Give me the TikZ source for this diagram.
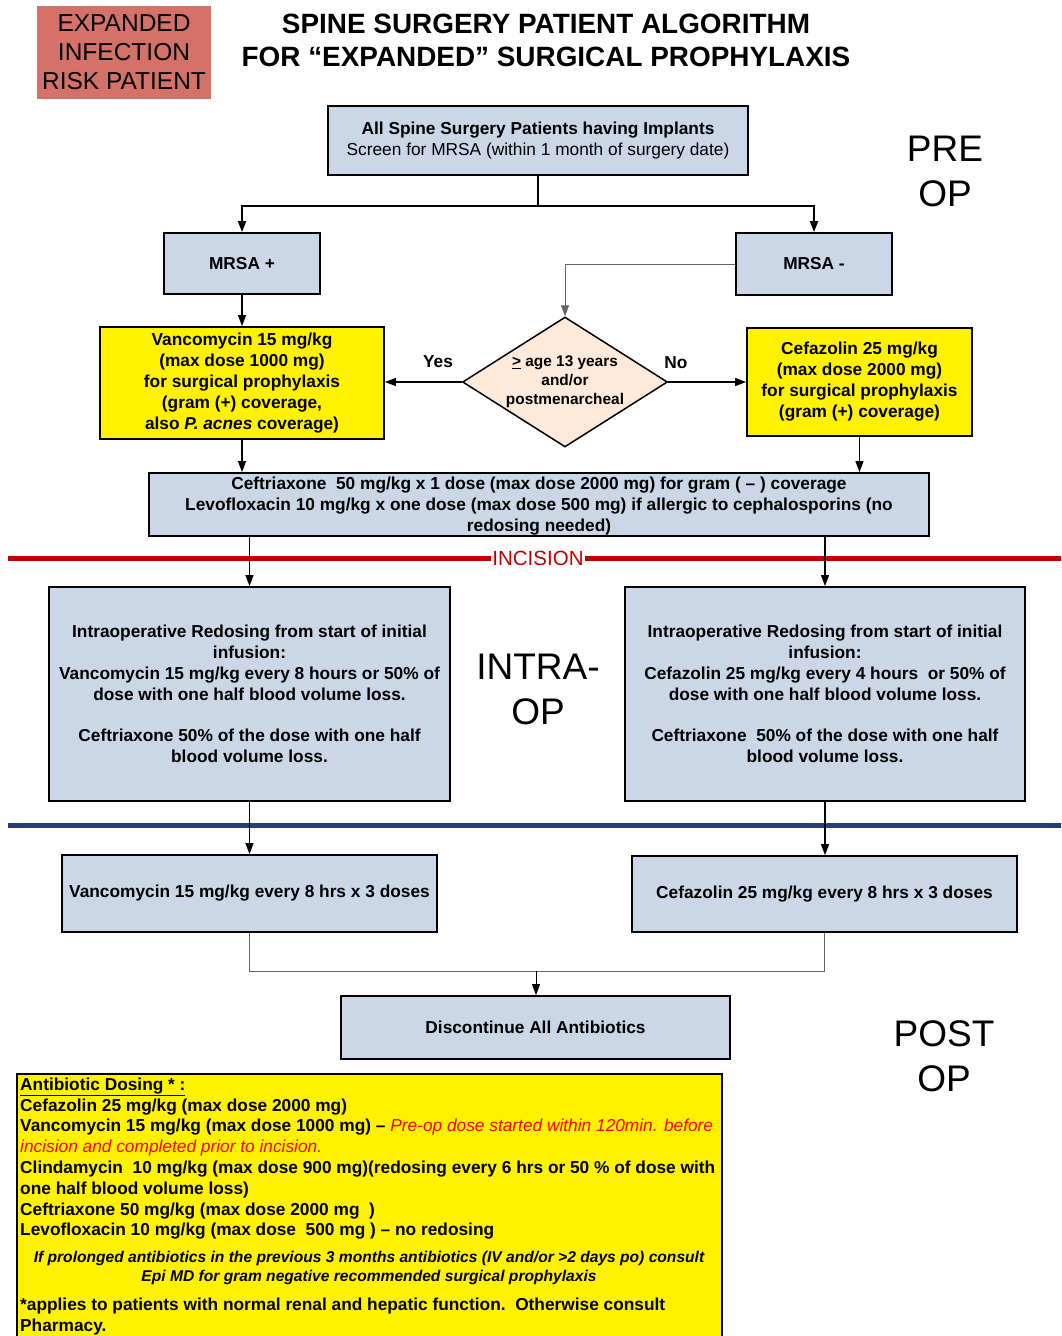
\documentclass[tikz,border=0pt]{standalone}
\usepackage{fontspec}
\setmainfont{Liberation Sans}
\usetikzlibrary{shapes.geometric,arrows.meta}
\definecolor{boxblue}{RGB}{203,215,231}
\definecolor{riskred}{RGB}{212,114,106}
\definecolor{peach}{RGB}{253,234,218}
\definecolor{incred}{RGB}{192,0,0}
\definecolor{postblue}{RGB}{36,64,116}
\definecolor{notered}{RGB}{255,0,0}
\definecolor{linkgray}{RGB}{100,100,100}
\newcommand{\fsz}[2]{\fontsize{#1}{#2}\selectfont}
\begin{document}
\begin{tikzpicture}[x=1pt,y=-1pt,
  stepbox/.style={draw,line width=1.8pt,fill=boxblue,align=center,inner sep=0pt,font=\bfseries\fsz{17.3}{21}},
  drugbox/.style={stepbox,fill=yellow},
  arr/.style={-{Triangle[width=8pt,length=11pt]},line width=1.1pt},
  phaselabel/.style={align=center,font=\fsz{37}{45}}]
\useasboundingbox (0,0) rectangle (1061,1336);
\node[fill=riskred,minimum width=174pt,minimum height=93pt,align=center,inner sep=0pt,font=\fsz{24.5}{29}] (risk) at (124,52.5){EXPANDED\\INFECTION\\RISK PATIENT};
\node[align=center,font=\bfseries\fsz{27.9}{33}] (title) at (546,40){SPINE SURGERY PATIENT ALGORITHM\\FOR “EXPANDED” SURGICAL PROPHYLAXIS};
\node[phaselabel] (pre) at (945,171.5){PRE\\OP};
\node[phaselabel] (intra) at (538,689.5){INTRA-\\OP};
\node[phaselabel] (post) at (944,1056.5){POST\\OP};

\node[stepbox,minimum width=420pt,minimum height=69pt] (all) at (538,140.5){All Spine Surgery Patients having Implants\\\mdseries Screen for MRSA (within 1 month of surgery date)};
\node[stepbox,minimum width=156pt,minimum height=61pt] (mrsap) at (242,263.5){MRSA +};
\node[stepbox,minimum width=156pt,minimum height=62pt] (mrsam) at (814,264){MRSA -};
\node[diamond,draw,line width=1.5pt,fill=peach,aspect=1.58,minimum width=205pt,minimum height=130pt,inner sep=0pt,align=center,font=\bfseries\fsz{15.4}{19}] (age) at (565,382){\underline{>} age 13 years\\and/or\\postmenarcheal};
\node[drugbox,minimum width=284pt,minimum height=112pt] (vanc) at (242,383){Vancomycin 15 mg/kg\\(max dose 1000 mg)\\for surgical prophylaxis\\(gram (+) coverage,\\also \textit{P. acnes} coverage)};
\node[drugbox,minimum width=225pt,minimum height=108pt] (cefa) at (859.5,382){Cefazolin 25 mg/kg\\(max dose 2000 mg)\\for surgical prophylaxis\\(gram (+) coverage)};
\node[font=\bfseries\fsz{17.3}{21}] (yes) at (438,362){Yes};
\node[font=\bfseries\fsz{17.3}{21}] (no) at (676,363){No};
\node[stepbox,minimum width=780pt,minimum height=63pt,text depth=0pt] (ceft) at (539,504.5){Ceftriaxone\ \ 50 mg/kg x 1 dose (max dose 2000 mg) for gram ( – ) coverage\\Levofloxacin 10 mg/kg x one dose (max dose 500 mg) if allergic to cephalosporins (no\\redosing needed)};

\node[stepbox,minimum width=401pt,minimum height=214pt] (intral) at (249.5,694){Intraoperative Redosing from start of initial\\infusion:\\Vancomycin 15 mg/kg every 8 hours or 50\% of\\dose with one half blood volume loss.\\[20pt]Ceftriaxone 50\% of the dose with one half\\blood volume loss.};
\node[stepbox,minimum width=400pt,minimum height=214pt] (intrar) at (825,694){Intraoperative Redosing from start of initial\\infusion:\\Cefazolin 25 mg/kg every 4 hours\ \ or 50\% of\\dose with one half blood volume loss.\\[20pt]Ceftriaxone\ \ 50\% of the dose with one half\\blood volume loss.};
\node[stepbox,minimum width=375pt,minimum height=77pt] (postl) at (249.5,893.5){Vancomycin 15 mg/kg every 8 hrs x 3 doses};
\node[stepbox,minimum width=385pt,minimum height=76pt] (postr) at (824.5,894){Cefazolin 25 mg/kg every 8 hrs x 3 doses};
\node[stepbox,minimum width=389pt,minimum height=63pt] (stop) at (535.5,1027.5){Discontinue All Antibiotics};

\node[draw,line width=1.8pt,fill=yellow,minimum width=705pt,minimum height=275pt,anchor=north west,inner sep=0pt] (dosing) at (16,1073){};
\node[anchor=north west,align=left,inner sep=0pt,font=\bfseries\fsz{17.3}{20.8}] (doses) at (20,1077.5){\underline{Antibiotic Dosing * :}\\Cefazolin 25 mg/kg (max dose 2000 mg)\\Vancomycin 15 mg/kg (max dose 1000 mg) – {\color{notered}\mdseries\itshape Pre-op dose started within 120min. before}\\{\color{notered}\mdseries\itshape incision and completed prior to incision.}\\Clindamycin\ \ 10 mg/kg (max dose 900 mg)(redosing every 6 hrs or 50 \% of dose with\\one half blood volume loss)\\Ceftriaxone 50 mg/kg (max dose 2000 mg\ \ )\\Levofloxacin 10 mg/kg (max dose\ \ 500 mg ) – no redosing};
\node[align=center,font=\bfseries\itshape\fsz{15.6}{19}] (note) at (369,1268){If prolonged antibiotics in the previous 3 months antibiotics (IV and/or >2 days po) consult\\Epi MD for gram negative recommended surgical prophylaxis};
\node[anchor=north west,align=left,inner sep=0pt,font=\bfseries\fsz{17.3}{21}] (foot) at (20,1298){*applies to patients with normal renal and hepatic function.\ \ Otherwise consult\\Pharmacy.};

\coordinate (split) at (538,206);
\draw[line width=2pt] (all.south) -- (split);
\draw[arr,line width=2pt] (split) -| (mrsap.north);
\draw[arr,line width=2pt] (split) -| (mrsam.north);
\draw[arr,linkgray,line width=1pt] (mrsam.west) -| (age.north);
\draw[arr] (mrsap.south) -- (vanc.north);
\draw[arr] (age.west) -- (age.west -| vanc.east);
\draw[arr] (age.east) -- (cefa.west);
\draw[arr] (vanc.south) -- (vanc.south |- ceft.north);
\draw[arr] (cefa.south) -- (cefa.south |- ceft.north);

\draw[incred,line width=5pt] (8,558) -- (1061,558);
\node[fill=white,text=incred,inner sep=1pt,font=\fsz{20.5}{24}] (incision) at (538,558){INCISION};
\draw[arr] (ceft.south -| intral.north) -- (intral.north);
\draw[arr] (ceft.south -| intrar.north) -- (intrar.north);

\draw[postblue,line width=5pt] (8,825) -- (1061,825);
\draw[arr] (intral.south) -- (postl.north);
\draw[arr] (intrar.south) -- (intrar.south |- postr.north);
\coordinate (merge) at (536,971);
\draw[linkgray,line width=1pt] (postl.south) |- (merge) -| (postr.south);
\draw[arr,line width=1pt] (merge) -- (merge |- stop.north);
\end{tikzpicture}
\end{document}
